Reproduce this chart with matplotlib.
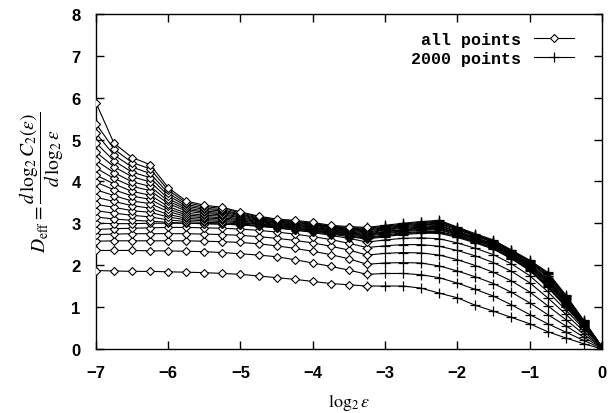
import matplotlib
matplotlib.use("Agg")
import matplotlib.pyplot as plt
import numpy as np

plt.rcParams['mathtext.fontset'] = 'stix'
plt.rcParams['font.family'] = 'Liberation Sans'

# log2(eps) grid for each family
x_all = [-7.0, -6.75, -6.5, -6.25, -6.0, -5.75, -5.5, -5.25, -5.0,
         -4.75, -4.5, -4.25, -4.0, -3.75, -3.5, -3.25]
x_2000 = [-3.25, -3.0, -2.75, -2.5, -2.25, -2.0, -1.75, -1.5, -1.25,
          -1.0, -0.75, -0.5, -0.25, 0.0]

# D_eff, "all points", one row per embedding dimension (bottom to top)
d_all = [
    [1.87, 1.86, 1.85, 1.85, 1.84, 1.83, 1.82, 1.80, 1.78, 1.74, 1.70, 1.66, 1.61, 1.56, 1.53, 1.50],
    [2.35, 2.35, 2.35, 2.34, 2.34, 2.33, 2.32, 2.30, 2.27, 2.24, 2.20, 2.13, 2.05, 1.97, 1.88, 1.78],
    [2.57, 2.58, 2.58, 2.58, 2.58, 2.58, 2.57, 2.56, 2.54, 2.51, 2.46, 2.40, 2.33, 2.25, 2.15, 2.02],
    [2.73, 2.74, 2.75, 2.75, 2.75, 2.75, 2.74, 2.73, 2.71, 2.68, 2.64, 2.59, 2.53, 2.45, 2.36, 2.24],
    [2.85, 2.87, 2.88, 2.89, 2.90, 2.90, 2.89, 2.88, 2.86, 2.83, 2.79, 2.74, 2.68, 2.61, 2.52, 2.42],
    [3.00, 2.99, 2.99, 3.00, 3.00, 3.00, 2.99, 2.98, 2.96, 2.93, 2.89, 2.84, 2.78, 2.71, 2.64, 2.55],
    [3.15, 3.10, 3.07, 3.05, 3.02, 3.00, 2.99, 2.98, 2.96, 2.93, 2.89, 2.84, 2.79, 2.74, 2.68, 2.62],
    [3.30, 3.24, 3.19, 3.15, 3.08, 3.04, 3.02, 3.01, 2.98, 2.95, 2.91, 2.86, 2.81, 2.76, 2.70, 2.64],
    [3.45, 3.38, 3.30, 3.26, 3.15, 3.08, 3.06, 3.04, 3.01, 2.97, 2.92, 2.88, 2.83, 2.77, 2.72, 2.66],
    [3.62, 3.52, 3.42, 3.36, 3.21, 3.12, 3.09, 3.07, 3.03, 2.98, 2.94, 2.89, 2.84, 2.79, 2.74, 2.69],
    [3.80, 3.66, 3.53, 3.47, 3.28, 3.16, 3.13, 3.10, 3.06, 3.00, 2.95, 2.91, 2.86, 2.81, 2.75, 2.71],
    [3.98, 3.80, 3.65, 3.57, 3.34, 3.20, 3.16, 3.13, 3.08, 3.02, 2.97, 2.93, 2.88, 2.82, 2.77, 2.73],
    [4.15, 3.94, 3.76, 3.67, 3.40, 3.24, 3.19, 3.17, 3.10, 3.04, 2.99, 2.95, 2.90, 2.84, 2.79, 2.75],
    [4.32, 4.07, 3.88, 3.78, 3.47, 3.29, 3.23, 3.20, 3.13, 3.06, 3.00, 2.96, 2.91, 2.85, 2.81, 2.77],
    [4.50, 4.21, 3.99, 3.88, 3.53, 3.33, 3.26, 3.23, 3.15, 3.07, 3.02, 2.98, 2.93, 2.87, 2.83, 2.79],
    [4.70, 4.35, 4.11, 3.99, 3.59, 3.37, 3.29, 3.26, 3.18, 3.09, 3.03, 3.00, 2.95, 2.89, 2.84, 2.82],
    [4.92, 4.49, 4.22, 4.09, 3.66, 3.41, 3.33, 3.29, 3.20, 3.11, 3.05, 3.02, 2.97, 2.90, 2.86, 2.84],
    [5.15, 4.63, 4.34, 4.19, 3.72, 3.45, 3.36, 3.32, 3.22, 3.13, 3.07, 3.03, 2.98, 2.92, 2.88, 2.86],
    [5.38, 4.77, 4.45, 4.30, 3.79, 3.49, 3.40, 3.35, 3.25, 3.15, 3.08, 3.05, 3.00, 2.93, 2.90, 2.88],
    [5.88, 4.91, 4.57, 4.40, 3.85, 3.53, 3.43, 3.38, 3.27, 3.17, 3.10, 3.07, 3.02, 2.95, 2.92, 2.90],
]

# D_eff, "2000 points"
d_2000 = [
    [1.50, 1.50, 1.50, 1.45, 1.33, 1.22, 1.04, 0.90, 0.75, 0.60, 0.41, 0.26, 0.12, 0.00],
    [1.78, 1.80, 1.80, 1.77, 1.70, 1.57, 1.42, 1.26, 1.05, 0.82, 0.60, 0.40, 0.20, 0.01],
    [2.02, 2.05, 2.06, 2.05, 1.98, 1.86, 1.72, 1.56, 1.35, 1.10, 0.82, 0.55, 0.28, 0.02],
    [2.24, 2.28, 2.30, 2.29, 2.24, 2.13, 1.99, 1.83, 1.62, 1.36, 1.03, 0.70, 0.35, 0.03],
    [2.42, 2.46, 2.49, 2.49, 2.45, 2.35, 2.22, 2.06, 1.85, 1.58, 1.22, 0.83, 0.42, 0.03],
    [2.55, 2.60, 2.64, 2.65, 2.63, 2.53, 2.40, 2.25, 2.03, 1.75, 1.37, 0.93, 0.48, 0.04],
    [2.62, 2.68, 2.73, 2.76, 2.76, 2.66, 2.53, 2.38, 2.15, 1.87, 1.47, 1.00, 0.52, 0.04],
    [2.64, 2.70, 2.75, 2.78, 2.78, 2.68, 2.55, 2.40, 2.16, 1.89, 1.50, 1.02, 0.53, 0.04],
    [2.66, 2.72, 2.77, 2.80, 2.80, 2.70, 2.56, 2.41, 2.18, 1.91, 1.52, 1.04, 0.54, 0.04],
    [2.69, 2.75, 2.80, 2.83, 2.84, 2.72, 2.59, 2.44, 2.20, 1.93, 1.56, 1.07, 0.56, 0.04],
    [2.71, 2.77, 2.82, 2.85, 2.86, 2.74, 2.60, 2.45, 2.22, 1.95, 1.59, 1.09, 0.57, 0.04],
    [2.73, 2.79, 2.84, 2.87, 2.88, 2.76, 2.62, 2.47, 2.23, 1.97, 1.61, 1.11, 0.58, 0.04],
    [2.75, 2.80, 2.85, 2.89, 2.90, 2.78, 2.63, 2.48, 2.25, 1.99, 1.64, 1.13, 0.59, 0.04],
    [2.77, 2.83, 2.88, 2.91, 2.93, 2.80, 2.65, 2.50, 2.26, 2.01, 1.66, 1.16, 0.61, 0.04],
    [2.79, 2.85, 2.90, 2.93, 2.95, 2.81, 2.66, 2.51, 2.28, 2.02, 1.69, 1.18, 0.62, 0.05],
    [2.82, 2.87, 2.92, 2.96, 2.98, 2.84, 2.69, 2.54, 2.30, 2.05, 1.73, 1.21, 0.63, 0.05],
    [2.84, 2.89, 2.94, 2.98, 3.00, 2.86, 2.70, 2.55, 2.32, 2.07, 1.75, 1.23, 0.65, 0.05],
    [2.86, 2.91, 2.96, 3.00, 3.03, 2.88, 2.72, 2.57, 2.33, 2.09, 1.78, 1.25, 0.66, 0.05],
    [2.88, 2.93, 2.98, 3.02, 3.05, 2.89, 2.73, 2.58, 2.35, 2.10, 1.81, 1.27, 0.67, 0.05],
    [2.90, 2.95, 3.00, 3.04, 3.07, 2.91, 2.75, 2.60, 2.36, 2.12, 1.83, 1.29, 0.68, 0.05],
]

fig = plt.figure(figsize=(6.11, 4.14), dpi=100)
ax = fig.add_axes([0.157, 0.155, 0.828, 0.809])

for i, row in enumerate(d_2000):
    ax.plot(x_2000, row, color='k', lw=0.8, marker='+', ms=7, mew=0.9,
            label='2000 points' if i == 0 else None, zorder=2)
for i, row in enumerate(d_all):
    ax.plot(x_all, row, color='k', lw=0.8, marker='D', ms=4, mfc='white',
            mew=0.8, label='all points' if i == 0 else None, zorder=3)

ax.set_xlim(-7, 0)
ax.set_ylim(0, 8)
ax.set_xticks(range(-7, 1))
ax.set_yticks(range(0, 9))
ax.set_xticklabels(['\u22127', '\u22126', '\u22125', '\u22124', '\u22123', '\u22122', '\u22121', '0'])
ax.tick_params(direction='in', length=6, width=1.0, top=True, right=True,
               labelsize=12)
ax.tick_params(axis='x', pad=12)
ax.tick_params(axis='y', pad=11)
for lab in ax.get_xticklabels() + ax.get_yticklabels():
    lab.set_fontweight('bold')
for s in ax.spines.values():
    s.set_linewidth(1.0)

ax.set_xlabel(r'$\log_2 \epsilon$', fontsize=13, labelpad=8)
ax.set_ylabel(r'$D_{\rm eff} = \dfrac{d\,\log_2 C_2(\epsilon)}{d\,\log_2 \epsilon}$',
              fontsize=14, labelpad=4)

h, l = ax.get_legend_handles_labels()
order = [l.index('all points'), l.index('2000 points')]
leg = ax.legend([h[k] for k in order], [l[k] for k in order], loc='upper right',
                frameon=False, markerfirst=False, handlelength=2.4,
                prop={'family': 'Liberation Mono', 'weight': 'bold', 'size': 12},
                borderaxespad=0.2, labelspacing=0.2, bbox_to_anchor=(0.965, 0.975))

fig.savefig('out.png', dpi=100)
